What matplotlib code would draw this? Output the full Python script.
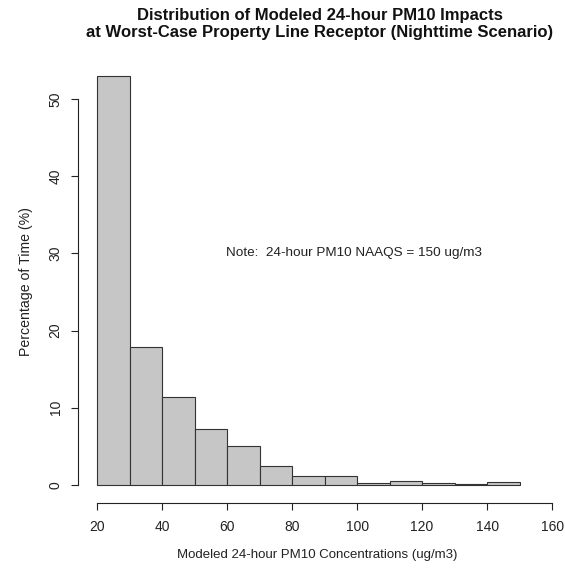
import matplotlib
matplotlib.use("Agg")
import matplotlib.pyplot as plt
import numpy as np

plt.rcParams['font.family'] = ['Liberation Sans', 'DejaVu Sans']

# Data
bin_edges = [20, 30, 40, 50, 60, 70, 80, 90, 100, 110, 120, 130, 140, 150]
percent = [53.0, 17.9, 11.4, 7.3, 5.05, 2.45, 1.15, 1.15, 0.3, 0.5, 0.25, 0.1, 0.35]
x_ticks = [20, 40, 60, 80, 100, 120, 140, 160]
y_ticks = [0, 10, 20, 30, 40, 50]

title = "Distribution of Modeled 24-hour PM10 Impacts\nat Worst-Case Property Line Receptor (Nighttime Scenario)"
xlabel = "Modeled 24-hour PM10 Concentrations (ug/m3)"
ylabel = "Percentage of Time (%)"
note = "Note:  24-hour PM10 NAAQS = 150 ug/m3"

W, H = 565, 575
fig = plt.figure(figsize=(W / 100, H / 100), dpi=100)
L, R, T, B = 78, 556, 60, 503
ax = fig.add_axes([L / W, 1 - B / H, (R - L) / W, (B - T) / H])

widths = np.diff(bin_edges)
ax.bar(bin_edges[:-1], percent, width=widths, align='edge',
       facecolor='#c6c6c6', edgecolor='#333333', linewidth=0.8)

ax.set_xlim(14.15, 161.2)
ax.set_ylim(-2.33, 55.05)

for s in ['top', 'right']:
    ax.spines[s].set_visible(False)
ax.spines['left'].set_bounds(0, 50)
ax.spines['bottom'].set_bounds(20, 160)
ax.spines['left'].set_color('#222222')
ax.spines['bottom'].set_color('#222222')

ax.set_xticks(x_ticks)
ax.set_yticks(y_ticks)
ax.tick_params(axis='both', direction='out', length=5, labelsize=10, colors='#222222', width=0.8)
ax.tick_params(axis='x', pad=7)
ax.tick_params(axis='y', pad=6)
for lab in ax.get_yticklabels():
    lab.set_rotation(90)
    lab.set_va('center')

ax.set_xlabel(xlabel, fontsize=9.5, labelpad=11, color='#222222')
ax.set_ylabel(ylabel, fontsize=10.2, labelpad=11, color='#222222')

ax.text(99, 30, note, fontsize=9.7, ha='center', va='center', color='#222222')

fig.text(320 / W, 1 - 24 / H, title, ha='center', va='center', fontsize=12,
         fontweight='bold', linespacing=1.15, color='#111111')

fig.savefig('out.png', dpi=100)
